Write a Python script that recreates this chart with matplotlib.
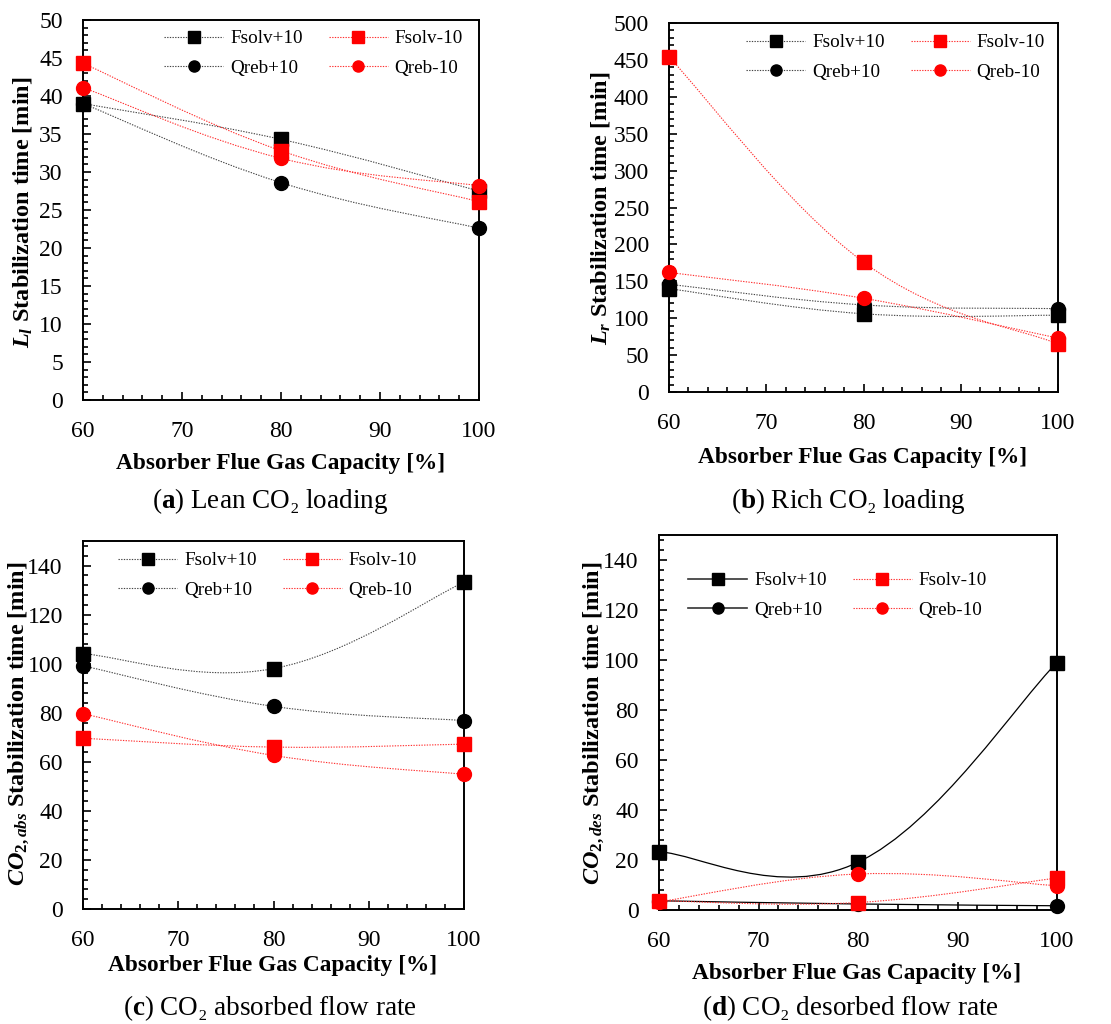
import numpy as np
import matplotlib
matplotlib.use("Agg")
import matplotlib.pyplot as plt
from matplotlib.path import Path
from matplotlib.patches import PathPatch
from matplotlib.lines import Line2D
from matplotlib.ticker import MultipleLocator

plt.rcParams["font.family"] = ["Liberation Serif", "DejaVu Serif"]
plt.rcParams["mathtext.fontset"] = "custom"
plt.rcParams["mathtext.it"] = "Liberation Serif:bold:italic"
plt.rcParams["mathtext.rm"] = "Liberation Serif:bold"
plt.rcParams["mathtext.bf"] = "Liberation Serif:bold"

W, H = 1111, 1024

capacity = [60, 80, 100]
series_names = ["Fsolv+10", "Qreb+10", "Fsolv-10", "Qreb-10"]

# (a) lean CO2 loading
lean_fsolv_up = [39.0, 34.3, 27.5]
lean_qreb_up = [39.0, 28.6, 22.6]
lean_fsolv_dn = [44.3, 32.8, 26.1]
lean_qreb_dn = [41.1, 31.8, 28.2]

# (b) rich CO2 loading
rich_fsolv_up = [140, 106, 104]
rich_qreb_up = [146, 118, 113]
rich_fsolv_dn = [454, 176, 65]
rich_qreb_dn = [162, 127, 73]

# (c) CO2 absorbed flow rate
abs_fsolv_up = [104.1, 98.0, 133.2]
abs_qreb_up = [99.1, 82.6, 76.8]
abs_fsolv_dn = [69.6, 66.0, 67.2]
abs_qreb_dn = [79.6, 62.6, 54.9]

# (d) CO2 desorbed flow rate
des_fsolv_up = [23.3, 19.1, 99.0]
des_qreb_up = [3.7, 2.4, 1.7]
des_fsolv_dn = [3.7, 3.0, 12.8]
des_qreb_dn = [3.3, 14.4, 9.7]


def smooth_path(x, y, k=0.2):
    # Bezier spline through the points, like a spreadsheet "smoothed line"
    pts = np.column_stack([x, y]).astype(float)
    n = len(pts)
    verts = [pts[0]]
    codes = [Path.MOVETO]
    for i in range(n - 1):
        p0 = pts[max(i - 1, 0)]
        p1 = pts[i]
        p2 = pts[i + 1]
        p3 = pts[min(i + 2, n - 1)]
        verts += [p1 + (p2 - p0) * k, p2 - (p3 - p1) * k, p2]
        codes += [Path.CURVE4] * 3
    return Path(verts, codes)


def fig_box(left, top, right, bottom):
    return [left / W, 1 - bottom / H, (right - left) / W, (bottom - top) / H]


panels = [
    dict(box=(83, 20, 479, 400), ymax=50, major=5, minor=1,
         data=[lean_fsolv_up, lean_qreb_up, lean_fsolv_dn, lean_qreb_dn],
         solid_black=False, ylabel=r"$L_l$ Stabilization time [min]",
         ylab_xy=(23, 212), xlab_xy=(281, 463),
         caption=r"($\mathbf{a}$) Lean CO₂ loading", cap_xy=(270, 501),
         leg_xy=(164, 30), ytop=None),
    dict(box=(669, 23, 1058, 392), ymax=500, major=50, minor=10,
         data=[rich_fsolv_up, rich_qreb_up, rich_fsolv_dn, rich_qreb_dn],
         solid_black=False, ylabel=r"$L_r$ Stabilization time [min]",
         ylab_xy=(600, 208), xlab_xy=(863, 457),
         caption=r"($\mathbf{b}$) Rich CO₂ loading", cap_xy=(848, 501),
         leg_xy=(746, 34), ytop=None),
    dict(box=(83, 541, 464, 909), ymax=150, major=20, minor=4,
         data=[abs_fsolv_up, abs_qreb_up, abs_fsolv_dn, abs_qreb_dn],
         solid_black=False, ylabel=r"$CO_{2,abs}$ Stabilization time [min]",
         ylab_xy=(19, 724), xlab_xy=(273, 965),
         caption=r"($\mathbf{c}$) CO₂ absorbed flow rate", cap_xy=(270, 1008),
         leg_xy=(118, 552), ytop=140),
    dict(box=(659, 535, 1057, 910), ymax=150, major=20, minor=4,
         data=[des_fsolv_up, des_qreb_up, des_fsolv_dn, des_qreb_dn],
         solid_black=True, ylabel=r"$CO_{2,des}$ Stabilization time [min]",
         ylab_xy=(594, 723), xlab_xy=(857, 974),
         caption=r"($\mathbf{d}$) CO₂ desorbed flow rate", cap_xy=(850, 1008),
         leg_xy=(688, 572), ytop=140),
]

colors = ["#000000", "#000000", "#ff0000", "#ff0000"]
markers = ["s", "o", "s", "o"]
dotted = (0, (1.2, 1.2))

fig = plt.figure(figsize=(W / 100, H / 100), dpi=100)

for p in panels:
    ax = fig.add_axes(fig_box(*p["box"]))
    ax.set_xlim(60, 100)
    ax.set_ylim(0, p["ymax"])

    for j, (vals, col, mk) in enumerate(zip(p["data"], colors, markers)):
        if p["solid_black"] and col == "#000000":
            ls, lw, lc = "-", 0.9, "#000000"
        else:
            ls, lw, lc = dotted, 0.8, "#444444" if col == "#000000" else "#ff3030"
        patch = PathPatch(smooth_path(capacity, vals), fill=False,
                          edgecolor=lc, linestyle=ls, linewidth=lw,
                          zorder=2, clip_on=False)
        ax.add_patch(patch)
        ax.plot(capacity, vals, linestyle="none", marker=mk, markersize=10,
                color=col, zorder=3 + j, clip_on=False)

    handles = []
    for j, (col, mk) in enumerate(zip(colors, markers)):
        if p["solid_black"] and col == "#000000":
            ls, lw, lc = "-", 1.2, "#333333"
        else:
            ls, lw, lc = dotted, 0.8, "#444444" if col == "#000000" else "#ff3030"
        handles.append(Line2D([], [], color=lc, linestyle=ls, linewidth=lw,
                              marker=mk, markersize=8, markerfacecolor=col,
                              markeredgecolor=col))
    l, t, r, b = p["box"]
    lx = (p["leg_xy"][0] - l) / (r - l)
    ly = 1 - (p["leg_xy"][1] - t) / (b - t)
    ax.legend(handles, series_names, ncol=2, loc="upper left",
              bbox_to_anchor=(lx, ly), frameon=False, fontsize=13.8,
              handlelength=3.1, handletextpad=0.35, columnspacing=1.35,
              labelspacing=0.62, borderpad=0, borderaxespad=0)

    ax.xaxis.set_major_locator(MultipleLocator(10))
    ax.xaxis.set_minor_locator(MultipleLocator(2))
    ax.yaxis.set_major_locator(MultipleLocator(p["major"]))
    ax.yaxis.set_minor_locator(MultipleLocator(p["minor"]))
    if p["ytop"] is not None:
        ax.set_yticks(np.arange(0, p["ytop"] + 1, p["major"]))
    ax.tick_params(which="both", direction="in", top=False, right=False,
                   width=1.2, labelsize=17)
    ax.tick_params(axis="x", which="major", length=6, pad=15)
    ax.tick_params(axis="y", which="major", length=6, pad=14.5)
    ax.tick_params(which="minor", length=3.5)
    for s in ax.spines.values():
        s.set_linewidth(1.4)

    fig.text(p["ylab_xy"][0] / W, 1 - p["ylab_xy"][1] / H, p["ylabel"],
             rotation=90, ha="center", va="center", fontsize=17.5,
             fontweight="bold")
    fig.text(p["xlab_xy"][0] / W, 1 - p["xlab_xy"][1] / H,
             "Absorber Flue Gas Capacity [%]", ha="center", va="center",
             fontsize=16.8, fontweight="bold")
    fig.text(p["cap_xy"][0] / W, 1 - p["cap_xy"][1] / H, p["caption"],
             ha="center", va="center", fontsize=19.5)

fig.savefig("out.png", dpi=100)
